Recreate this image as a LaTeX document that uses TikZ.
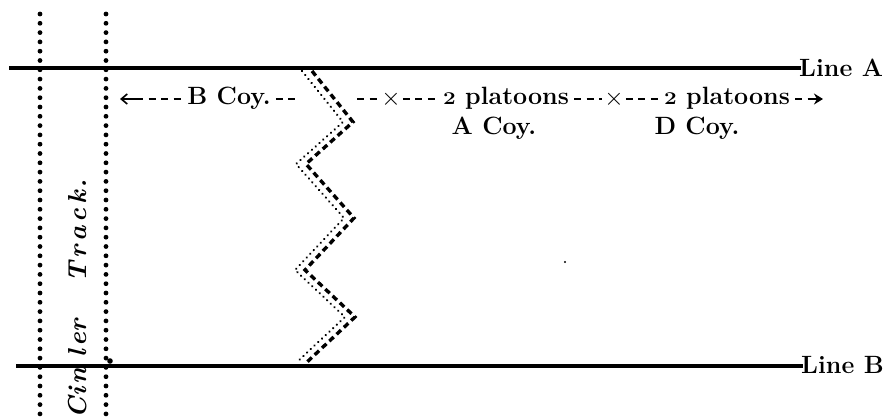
\documentclass[tikz,border=0pt]{standalone}
\usetikzlibrary{arrows.meta}

% small old-style two, sitting on the x-height
\newcommand{\lowtwo}{\scalebox{0.9}[0.72]{2}}

\tikzset{
  lbl/.style={font=\fontsize{25}{28}\selectfont\bfseries, inner sep=0pt},
  heavy/.style={line width=4.2pt},
  cinder/.style={line width=4.8pt, dash pattern=on 0pt off 9.3pt, line cap=round},
  hy/.style={line width=2.8pt, dash pattern=on 7pt off 5.5pt},
  zzdash/.style={line width=3.4pt, dash pattern=on 6pt off 4pt},
  zzdot/.style={line width=2.4pt, dash pattern=on 0.1pt off 5pt, line cap=round},
  track/.style={font=\fontsize{26}{30}\selectfont\itshape\bfseries, rotate=90, anchor=base, inner sep=0pt},
}

\begin{document}
\begin{tikzpicture}[x=1pt, y=-1pt]
  \useasboundingbox (0,0) rectangle (887,420);

  % cinder track edges
  \draw[cinder] (40,14) -- (40,424);
  \draw[cinder] (106,14) -- (106,424);
  \fill (110,361) circle (2.8pt);

  % the two lines
  \coordinate (a0) at (9,68);   \coordinate (a1) at (801,68);
  \coordinate (b0) at (16,366); \coordinate (b1) at (803,366);
  \draw[heavy] (a0) -- (a1);
  \draw[heavy] (b0) -- (b1);
  \node[lbl, anchor=base west] (linea) at (799,77) {Line A};
  \node[lbl, anchor=base west] (lineb) at (801,373) {Line B};

  % track name
  \foreach \c/\y [count=\k] in {C/408,i/392,n/376,l/354,e/340,r/326,T/272,r/252,a/234,c/216,k/198,./184}
    \node[track, name=ct\k] at (86,\y) {\c};

  % zigzag trench, drawn as two parallel broken lines
  \coordinate (z0) at (307,71);
  \coordinate (z1) at (348,122);
  \coordinate (z2) at (301,164);
  \coordinate (z3) at (349,218);
  \coordinate (z4) at (300,270);
  \coordinate (z5) at (350,317);
  \coordinate (z6) at (301,363);
  \draw[zzdot] ([xshift=-5pt]z0) -- ([xshift=-5pt]z1) -- ([xshift=-5pt]z2) -- ([xshift=-5pt]z3)
    -- ([xshift=-5pt]z4) -- ([xshift=-5pt]z5) -- ([xshift=-5pt]z6);
  \draw[zzdash] ([xshift=5pt]z0) -- ([xshift=5pt]z1) -- ([xshift=5pt]z2) -- ([xshift=5pt]z3)
    -- ([xshift=5pt]z4) -- ([xshift=5pt]z5) -- ([xshift=5pt]z6);

  % company frontages
  \node[lbl, anchor=base] (bcoy) at (229,104) {B Coy.};
  \node[lbl, anchor=base] (p1) at (506,104) {\lowtwo{} platoons};
  \node[lbl, anchor=base] (p2) at (727,104) {\lowtwo{} platoons};
  \node[lbl, font=\fontsize{25}{28}\selectfont] (x1) at (391,99) {$\times$};
  \node[lbl, font=\fontsize{25}{28}\selectfont] (x2) at (614,99) {$\times$};
  \node[lbl, anchor=base] (acoy) at (494,135) {A Coy.};
  \node[lbl, anchor=base] (dcoy) at (697,135) {D Coy.};

  \coordinate (la) at (120,99);
  \coordinate (la2) at (136,99);
  \coordinate (zl) at (296,99);
  \coordinate (zr) at (357,99);
  \coordinate (ra2) at (808,99);
  \coordinate (ra) at (823,99);

  \draw[line width=1.6pt, {Straight Barb[length=6pt,width=10pt]}-] (la) -- (la2);
  \draw[hy] (la2) -- ([xshift=-5pt]bcoy.west |- la);
  \draw[hy] ([xshift=5pt]bcoy.east |- la) -- (zl);
  \draw[hy] (zr) -- ([xshift=-2pt]x1.west |- la);
  \draw[hy] ([xshift=2pt]x1.east |- la) -- ([xshift=-5pt]p1.west |- la);
  \draw[hy] ([xshift=5pt]p1.east |- la) -- ([xshift=-2pt]x2.west |- la);
  \draw[hy] ([xshift=2pt]x2.east |- la) -- ([xshift=-5pt]p2.west |- la);
  \draw[hy] ([xshift=5pt]p2.east |- la) -- (ra2);
  \draw[line width=2.8pt, -{Stealth[length=9pt,width=11pt]}] (ra2) -- (ra);

  \fill (565,262) circle (1.2pt);
\end{tikzpicture}
\end{document}
